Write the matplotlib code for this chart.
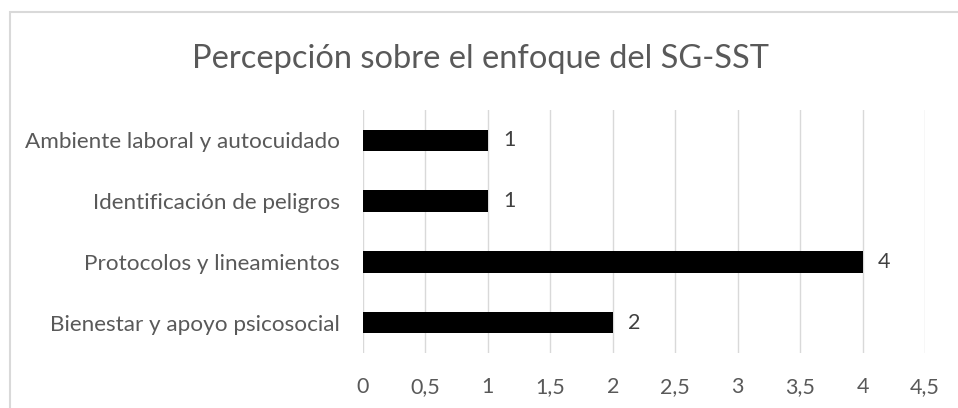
import matplotlib
matplotlib.use("Agg")
import matplotlib.pyplot as plt
from matplotlib.patches import Rectangle

categories = ["Bienestar y apoyo psicosocial", "Protocolos y lineamientos",
              "Identificación de peligros", "Ambiente laboral y autocuidado"]
values = [2, 4, 1, 1]
ticks = [0, 0.5, 1, 1.5, 2, 2.5, 3, 3.5, 4, 4.5]
tick_labels = ["0", "0,5", "1", "1,5", "2", "2,5", "3", "3,5", "4", "4,5"]
title = "Percepción sobre el enfoque del SG-SST"

plt.rcParams['font.family'] = ['Lato', 'DejaVu Sans']
W, H = 958, 408
fig = plt.figure(figsize=(W / 100, H / 100), dpi=100)

# outer chart border (runs off the right and bottom edges)
fig.patches.append(Rectangle((10 / W, -0.1), 1.2, 1 - 12 / H + 0.1, transform=fig.transFigure,
                             fill=False, edgecolor="#d9d9d9", linewidth=1.5))

ax = fig.add_axes([363 / W, 1 - 353 / H, (925 - 363) / W, (353 - 110) / H])
ax.barh(range(len(categories)), values, height=0.35, color="black", zorder=3)
for i, v in enumerate(values):
    ax.text(v + 0.17, i, str(v), va="center", ha="center", fontsize=15.5, color="#404040")

ax.set_xlim(0, 4.5)
ax.set_ylim(-0.5, len(categories) - 0.5)
ax.set_xticks(ticks)
ax.set_xticklabels(tick_labels)
ax.set_yticks(range(len(categories)))
ax.set_yticklabels(categories)
ax.tick_params(axis="both", length=0, labelsize=15.5, labelcolor="#595959")
ax.tick_params(axis="y", labelsize=16.2, pad=16.5)
ax.tick_params(axis="x", pad=17)
ax.grid(axis="x", color="#d9d9d9", linewidth=1, zorder=0)
for s in ax.spines.values():
    s.set_visible(False)

fig.text(481 / W, 1 - 59 / H, title, ha="center", va="center", fontsize=23.5, color="#595959")

fig.savefig("out.png", dpi=100)
